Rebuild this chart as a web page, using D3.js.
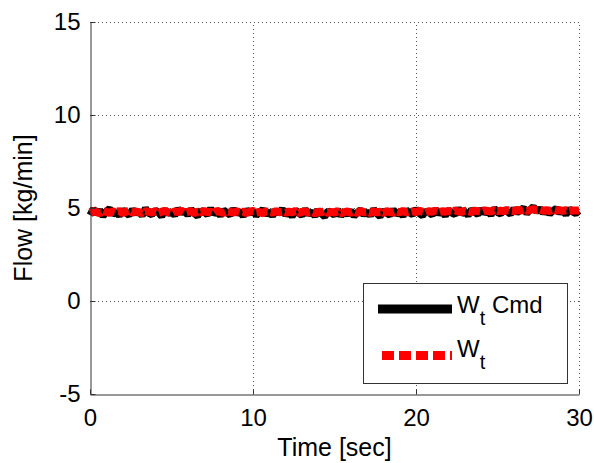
<!DOCTYPE html>
<html lang="en">
<head>
  <meta charset="utf-8">
  <title>Flow vs Time</title>
  <script src="https://cdn.jsdelivr.net/npm/d3@7"></script>
  <style>
    body { margin: 0; background: #fff; }
    text { font-family: "Liberation Sans", Arial, sans-serif; fill: #000; }
  </style>
</head>
<body>
  <svg class="chart" width="594" height="463"></svg>
  <script>
    var width = 594, height = 463;
    var margin = { top: 22, right: 15, bottom: 69, left: 90 };

    // sample interval of the logged signals [sec]
    var dt = 0.2;

    var xTicks = [0, 10, 20, 30];
    var yTicks = [-5, 0, 5, 10, 15];
    var yTickLabels = ["-5", "0", "5", "10", "15"];

    // W_t Cmd [kg/min]
    var wtCmd = [
      4.62, 4.95, 4.71, 4.88, 4.55, 4.83, 4.97, 4.66, 4.79, 4.58,
      4.91, 4.74, 4.60, 4.93, 4.69, 4.85, 4.57, 4.99, 4.72, 4.64,
      4.89, 4.76, 4.54, 4.92, 4.68, 4.81, 4.59, 4.96, 4.73, 4.86,
      4.61, 4.94, 4.70, 4.56, 4.87, 4.78, 4.63, 4.98, 4.67, 4.84,
      4.58, 4.90, 4.75, 4.62, 4.95, 4.69, 4.83, 4.55, 4.92, 4.71,
      4.86, 4.60, 4.77, 4.93, 4.64, 4.82, 4.57, 4.89, 4.70, 4.96,
      4.62, 4.79, 4.54, 4.88, 4.73, 4.59, 4.94, 4.66, 4.81, 4.56,
      4.90, 4.68, 4.53, 4.85, 4.74, 4.61, 4.92, 4.57, 4.80, 4.65,
      4.87, 4.55, 4.76, 4.91, 4.62, 4.83, 4.58, 4.95, 4.69, 4.54,
      4.88, 4.72, 4.60, 4.93, 4.66, 4.79, 4.56, 4.90, 4.74, 4.63,
      4.97, 4.70, 4.58, 4.86, 4.75, 4.62, 4.94, 4.68, 4.84, 4.57,
      4.91, 4.73, 4.64, 4.98, 4.69, 4.81, 4.59, 4.92, 4.77, 4.65,
      4.95, 4.72, 4.86, 4.61, 4.99, 4.76, 4.68, 4.93, 4.80, 4.66,
      4.97, 4.74, 4.88, 5.02, 4.70, 4.91, 5.08, 4.78, 4.99, 4.72,
      4.94, 4.67, 4.86, 4.98, 4.73, 4.90, 4.64, 4.96, 4.79, 4.70,
      4.85
    ];

    // W_t [kg/min]
    var wt = [
      4.76, 4.83, 4.78, 4.72, 4.85, 4.79, 4.74, 4.82, 4.77, 4.84,
      4.73, 4.80, 4.86, 4.75, 4.81, 4.78, 4.71, 4.84, 4.79, 4.76,
      4.83, 4.74, 4.80, 4.85, 4.77, 4.72, 4.82, 4.78, 4.86, 4.75,
      4.79, 4.83, 4.73, 4.81, 4.77, 4.84, 4.76, 4.80, 4.72, 4.85,
      4.78, 4.74, 4.82, 4.79, 4.75, 4.83, 4.77, 4.81, 4.73, 4.80,
      4.84, 4.76, 4.79, 4.72, 4.82, 4.78, 4.75, 4.83, 4.77, 4.80,
      4.74, 4.81, 4.76, 4.84, 4.73, 4.79, 4.82, 4.75, 4.78, 4.71,
      4.80, 4.77, 4.83, 4.74, 4.79, 4.76, 4.82, 4.72, 4.78, 4.81,
      4.75, 4.80, 4.73, 4.84, 4.77, 4.79, 4.74, 4.82, 4.76, 4.80,
      4.72, 4.83, 4.78, 4.75, 4.81, 4.77, 4.84, 4.76, 4.79, 4.82,
      4.78, 4.85, 4.80, 4.76, 4.83, 4.79, 4.86, 4.77, 4.82, 4.80,
      4.84, 4.78, 4.87, 4.81, 4.79, 4.85, 4.82, 4.78, 4.86, 4.83,
      4.80, 4.87, 4.84, 4.81, 4.88, 4.83, 4.86, 4.82, 4.89, 4.85,
      4.83, 4.90, 4.86, 4.92, 4.84, 4.89, 4.95, 4.87, 4.91, 4.85,
      4.88, 4.84, 4.90, 4.86, 4.89, 4.85, 4.88, 4.84, 4.87, 4.86,
      4.87
    ];

    var x = d3.scaleLinear()
              .domain([0, 30])
              .range([margin.left, width - margin.right]);

    var y = d3.scaleLinear()
              .domain([-5, 15])
              .range([height - margin.bottom, margin.top]);

    var line = d3.line()
                 .x(function(d, i) { return x(i * dt); })
                 .y(function(d) { return y(d); });

    var svg = d3.select("svg.chart");

    // dotted grid
    var grid = svg.append("g").attr("stroke", "#555").attr("stroke-width", 1)
                  .attr("stroke-dasharray", "1,3");
    grid.selectAll("line.gx")
        .data(xTicks.slice(1))
        .enter().append("line")
        .attr("x1", function(d) { return x(d) + 0.5; })
        .attr("x2", function(d) { return x(d) + 0.5; })
        .attr("y1", y(-5)).attr("y2", y(15));
    grid.selectAll("line.gy")
        .data(yTicks.slice(1))
        .enter().append("line")
        .attr("y1", function(d) { return y(d) + 0.5; })
        .attr("y2", function(d) { return y(d) + 0.5; })
        .attr("x1", x(0)).attr("x2", x(30));

    // data lines
    svg.append("path")
       .datum(wtCmd)
       .attr("d", line)
       .attr("fill", "none")
       .attr("stroke", "#000")
       .attr("stroke-width", 7)
       .attr("stroke-linejoin", "bevel");

    svg.append("path")
       .datum(wt)
       .attr("d", line)
       .attr("fill", "none")
       .attr("stroke", "#ff0000")
       .attr("stroke-width", 8)
       .attr("stroke-linejoin", "bevel")
       .attr("stroke-dasharray", "12,3");

    // axes
    var xAxis = d3.axisBottom(x)
                  .tickValues(xTicks)
                  .tickSizeInner(-5)
                  .tickSizeOuter(0)
                  .tickPadding(14);

    var yAxis = d3.axisLeft(y)
                  .tickValues(yTicks)
                  .tickFormat(function(d, i) { return yTickLabels[i]; })
                  .tickSizeInner(-5)
                  .tickSizeOuter(0)
                  .tickPadding(10);

    var gx = svg.append("g")
                .attr("transform", "translate(0," + (y(-5) + 0.5) + ")")
                .call(xAxis);
    var gy = svg.append("g")
                .attr("transform", "translate(" + (x(0) + 0.5) + ",0)")
                .call(yAxis);

    [gx, gy].forEach(function(g) {
      g.select(".domain").attr("stroke", "#333");
      g.selectAll(".tick line").attr("stroke", "#333");
      g.selectAll(".tick text")
       .attr("font-family", "Liberation Sans, Arial, sans-serif")
       .attr("font-size", 24)
       .attr("fill", "#000");
    });

    // axis labels
    svg.append("text")
       .attr("x", (x(0) + x(30)) / 2)
       .attr("y", 456)
       .attr("text-anchor", "middle")
       .attr("font-size", 25)
       .text("Time [sec]");

    svg.append("text")
       .attr("transform", "translate(32," + y(5) + ") rotate(-90)")
       .attr("text-anchor", "middle")
       .attr("font-size", 25)
       .text("Flow [kg/min]");

    // legend
    var legend = svg.append("g");
    legend.append("rect")
          .attr("x", 363.5).attr("y", 283.5)
          .attr("width", 204).attr("height", 100)
          .attr("fill", "#fff")
          .attr("stroke", "#333");

    legend.append("line")
          .attr("x1", 378).attr("x2", 452)
          .attr("y1", 309).attr("y2", 309)
          .attr("stroke", "#000").attr("stroke-width", 9);

    legend.append("line")
          .attr("x1", 382).attr("x2", 452)
          .attr("y1", 355.5).attr("y2", 355.5)
          .attr("stroke", "#ff0000").attr("stroke-width", 9)
          .attr("stroke-dasharray", "12,5");

    var t1 = legend.append("text").attr("x", 457).attr("y", 313).attr("font-size", 24);
    t1.append("tspan").text("W");
    t1.append("tspan").attr("dy", 12).attr("font-size", 20).text("t");
    t1.append("tspan").attr("dy", -12).text(" Cmd");

    var t2 = legend.append("text").attr("x", 457).attr("y", 357).attr("font-size", 24);
    t2.append("tspan").text("W");
    t2.append("tspan").attr("dy", 12).attr("font-size", 20).text("t");
  </script>
</body>
</html>
